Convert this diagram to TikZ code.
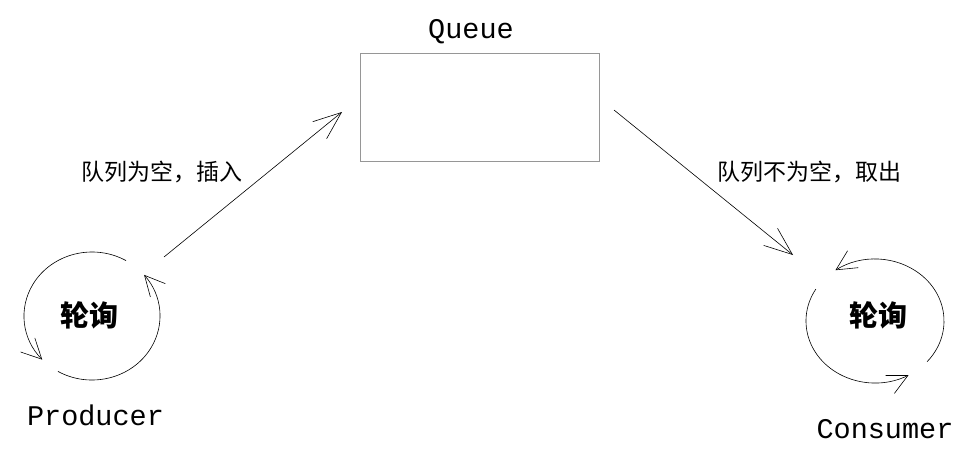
\documentclass[tikz,border=0pt]{standalone}
\usepackage{fontspec}
\setmonofont{Liberation Mono}
\newfontfamily\cjk{Noto Sans CJK SC}
\usetikzlibrary{arrows.meta}
\tikzset{>={Straight Barb[length=28pt,width=22pt]}}
\definecolor{boxgray}{RGB}{150,150,150}
\tikzset{
  queuebox/.style={draw=boxgray,line width=0.8pt,minimum width=239pt,minimum height=108pt,inner sep=0pt},
  roletext/.style={anchor=base,font=\ttfamily\fontsize{28.5}{30}\selectfont},
  cntext/.style={font=\cjk\fontsize{23}{26}\selectfont},
  polltext/.style={font=\cjk\bfseries\fontsize{29}{32}\selectfont},
  flow/.style={->,line width=0.6pt},
  spin/.style={-{Straight Barb[length=20pt,width=20pt]},line width=0.6pt},
}

\begin{document}
\begin{tikzpicture}[x=1pt,y=-1pt]
\useasboundingbox (0,0) rectangle (972,448);
\node[queuebox] (queue) at (479.5,107) {};
\node[roletext] (queuelbl) at (471,38) {Queue};
\node[roletext] (producer) at (95.5,425) {Producer};
\node[roletext] (consumer) at (885,438) {Consumer};
\node[cntext] (putlbl) at (162,172) {队列为空，插入};
\node[cntext] (takelbl) at (809,172) {队列不为空，取出};
\node[polltext] (ppoll) at (89,315) {轮询};
\node[polltext] (cpoll) at (878.5,315) {轮询};
\coordinate (pcenter) at (92,316);
\coordinate (ccenter) at (875,321);
\coordinate (pfrom) at (164,257);
\coordinate (pto) at (342,112);
\coordinate (cfrom) at (614,110);
\coordinate (cto) at (793,255);
\draw[flow] (pfrom) -- (pto);
\draw[flow] (cfrom) -- (cto);
% producer loop
\draw[spin] (pcenter) ++(60:68pt and 64pt) arc[start angle=60,end angle=223,x radius=68pt,y radius=64pt];
\draw[spin] (pcenter) ++(240:68pt and 64pt) arc[start angle=240,end angle=400,x radius=68pt,y radius=64pt];
% consumer loop
\draw[spin] (ccenter) ++(-41:69pt and 62pt) arc[start angle=-41,end angle=125,x radius=69pt,y radius=62pt];
\draw[spin] (ccenter) ++(149:69pt and 62pt) arc[start angle=149,end angle=299,x radius=69pt,y radius=62pt];
\end{tikzpicture}
\end{document}
